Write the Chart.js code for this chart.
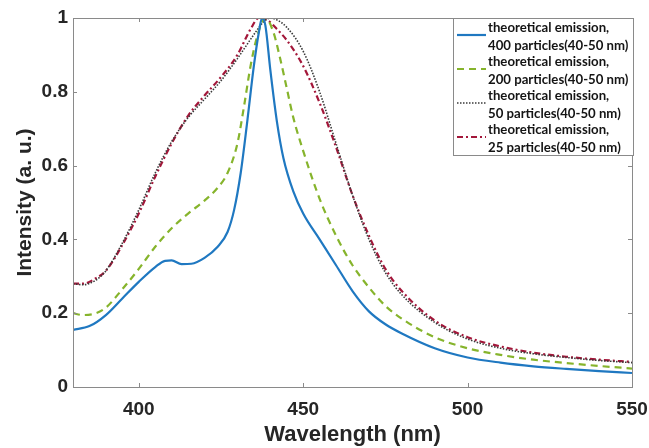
<!DOCTYPE html>
<html>
<head>
<meta charset="utf-8">
<script src="https://cdn.jsdelivr.net/npm/chart.js@4.4.0/dist/chart.umd.min.js"></script>
<style>
	html, body { margin: 0; padding: 0; background: #fff; }
	#wrap { width: 649px; height: 448px; position: relative; }
</style>
</head>
<body>
<div id="wrap"><canvas id="emissionChart" width="649" height="448"></canvas></div>
<script>
// wavelength (nm) / normalized intensity
const blueX = [380, 385, 390, 395, 400, 405, 408, 410, 413, 416, 420, 424, 427, 429, 431, 433, 435, 436.5, 437.5, 438.5, 440, 442, 444, 447, 450, 455, 460, 465, 470, 475, 480, 490, 500, 510, 520, 530, 540, 550];
const blueY = [0.155, 0.165, 0.195, 0.24, 0.285, 0.325, 0.342, 0.343, 0.333, 0.334, 0.35, 0.38, 0.42, 0.48, 0.58, 0.72, 0.87, 0.96, 1.0, 0.98, 0.86, 0.72, 0.62, 0.53, 0.47, 0.40, 0.33, 0.26, 0.205, 0.17, 0.145, 0.105, 0.08, 0.066, 0.056, 0.049, 0.043, 0.038];

const greenX = [380, 383, 387, 390, 395, 400, 405, 410, 415, 420, 424, 427, 430, 432, 434, 436, 438.5, 441, 443, 445, 447, 450, 455, 460, 465, 470, 475, 480, 490, 500, 510, 520, 530, 540, 550];
const greenY = [0.2, 0.195, 0.2, 0.215, 0.265, 0.32, 0.38, 0.43, 0.47, 0.505, 0.54, 0.58, 0.66, 0.76, 0.87, 0.95, 1.0, 0.96, 0.89, 0.81, 0.73, 0.64, 0.51, 0.41, 0.33, 0.27, 0.22, 0.185, 0.135, 0.105, 0.087, 0.074, 0.065, 0.057, 0.05];

const blackX = [380, 383, 387, 390, 395, 400, 405, 410, 415, 420, 425, 430, 435, 438, 440, 442, 445, 450, 455, 460, 465, 470, 475, 480, 490, 500, 510, 520, 530, 540, 550];
const blackY = [0.28, 0.277, 0.29, 0.315, 0.39, 0.48, 0.58, 0.665, 0.73, 0.78, 0.83, 0.89, 0.955, 0.99, 1.0, 0.995, 0.975, 0.91, 0.8, 0.66, 0.52, 0.4, 0.31, 0.25, 0.175, 0.13, 0.105, 0.09, 0.08, 0.072, 0.066];

const redX = [380, 383, 387, 390, 395, 400, 405, 410, 415, 420, 425, 430, 434, 436.5, 439, 442, 445, 450, 455, 460, 465, 470, 475, 480, 490, 500, 510, 520, 530, 540, 550];
const redY = [0.28, 0.28, 0.295, 0.315, 0.385, 0.47, 0.57, 0.66, 0.735, 0.79, 0.84, 0.9, 0.97, 1.0, 0.995, 0.97, 0.94, 0.87, 0.77, 0.65, 0.52, 0.41, 0.32, 0.26, 0.18, 0.135, 0.11, 0.093, 0.082, 0.074, 0.068];

const seriesLabels = [
	["theoretical emission,", "400 particles(40-50 nm)"],
	["theoretical emission,", "200 particles(40-50 nm)"],
	["theoretical emission,", "50 particles(40-50 nm)"],
	["theoretical emission,", "25 particles(40-50 nm)"],
];
const xTicks = [400, 450, 500, 550];
const yTicks = [0, 0.2, 0.4, 0.6, 0.8, 1];

function toPoints(xs, ys) {
	return xs.map((x, i) => ({ x: x, y: ys[i] }));
}

const styles = [
	{ color: "#1f78c1", width: 2.2, dash: [] },
	{ color: "#86b42c", width: 2.2, dash: [7, 5] },
	{ color: "#3a3a3a", width: 1.6, dash: [1.5, 1.5] },
	{ color: "#a3173a", width: 2.2, dash: [6, 3, 2, 3] },
];

const pointSets = [
	toPoints(blueX, blueY),
	toPoints(greenX, greenY),
	toPoints(blackX, blackY),
	toPoints(redX, redY),
];

const datasets = pointSets.map((pts, i) => ({
	label: seriesLabels[i].join(" "),
	data: pts,
	borderColor: styles[i].color,
	borderWidth: styles[i].width,
	borderDash: styles[i].dash,
	pointRadius: 0,
	fill: false,
	cubicInterpolationMode: "monotone",
}));

// MATLAB-style box, inward ticks and a two-line legend
const boxPlugin = {
	id: "boxPlugin",
	afterDraw(chart) {
		const { ctx, chartArea: a, scales } = chart;
		ctx.save();
		ctx.strokeStyle = "#8a8a8a";
		ctx.lineWidth = 1;
		ctx.setLineDash([]);
		ctx.strokeRect(a.left + 0.5, a.top + 0.5, a.right - a.left, a.bottom - a.top);
		ctx.beginPath();
		xTicks.forEach((v) => {
			const px = Math.round(scales.x.getPixelForValue(v)) + 0.5;
			ctx.moveTo(px, a.bottom); ctx.lineTo(px, a.bottom - 4);
			ctx.moveTo(px, a.top); ctx.lineTo(px, a.top + 4);
		});
		yTicks.forEach((v) => {
			const py = Math.round(scales.y.getPixelForValue(v)) + 0.5;
			ctx.moveTo(a.left, py); ctx.lineTo(a.left + 4, py);
			ctx.moveTo(a.right, py); ctx.lineTo(a.right - 4, py);
		});
		ctx.stroke();

		// legend
		const lx = 453, ly = 18, lw = 180, lh = 137;
		ctx.fillStyle = "#fff";
		ctx.fillRect(lx, ly, lw, lh);
		ctx.strokeStyle = "#8a8a8a";
		ctx.strokeRect(lx + 0.5, ly + 0.5, lw, lh);
		ctx.font = "bold 13.2px Lato";
		ctx.fillStyle = "#141414";
		ctx.textBaseline = "middle";
		ctx.textAlign = "left";
		seriesLabels.forEach((lines, i) => {
			const y0 = ly + 10 + i * 34;
			const s = styles[i];
			ctx.strokeStyle = s.color;
			ctx.lineWidth = s.width;
			ctx.setLineDash(s.dash);
			ctx.beginPath();
			ctx.moveTo(457, y0 + 7);
			ctx.lineTo(486, y0 + 7);
			ctx.stroke();
			ctx.fillText(lines[0], 488, y0);
			ctx.fillText(lines[1], 488, y0 + 18);
		});
		ctx.restore();
	},
};

const ctx = document.getElementById("emissionChart");

new Chart(ctx, {
	type: "line",
	data: { datasets },
	options: {
		responsive: false,
		animation: false,
		events: [],
		layout: { padding: { left: 0, right: 17, top: 18, bottom: 0 } },
		plugins: {
			legend: { display: false },
			tooltip: { enabled: false },
		},
		scales: {
			x: {
				type: "linear",
				min: 380,
				max: 550,
				grid: { display: false, drawTicks: false },
				border: { display: false },
				afterBuildTicks: (scale) => {
					scale.ticks = xTicks.map((v) => ({ value: v }));
				},
				afterFit: (scale) => {
					scale.height = 61;
					scale.paddingLeft = 0;
					scale.paddingRight = 0;
				},
				ticks: {
					padding: 11,
					color: "#262626",
					font: { family: "Liberation Sans", size: 19, weight: "bold" },
				},
				title: {
					display: true,
					text: "Wavelength (nm)",
					color: "#262626",
					padding: { top: 0, bottom: 0 },
					font: { family: "Liberation Sans", size: 22, weight: "bold" },
				},
			},
			y: {
				min: 0,
				max: 1,
				grid: { display: false, drawTicks: false },
				border: { display: false },
				afterBuildTicks: (scale) => {
					scale.ticks = yTicks.map((v) => ({ value: v }));
				},
				afterFit: (scale) => {
					scale.width = 73;
					scale.paddingTop = 0;
					scale.paddingBottom = 0;
				},
				ticks: {
					padding: 5,
					color: "#262626",
					font: { family: "Liberation Sans", size: 19, weight: "bold" },
					callback: (v) => String(v),
				},
				title: {
					display: true,
					text: "Intensity (a. u.)",
					color: "#262626",
					padding: { top: 13, bottom: 0 },
					font: { family: "Liberation Sans", size: 21, weight: "bold" },
				},
			},
		},
	},
	plugins: [boxPlugin],
});
</script>
</body>
</html>
